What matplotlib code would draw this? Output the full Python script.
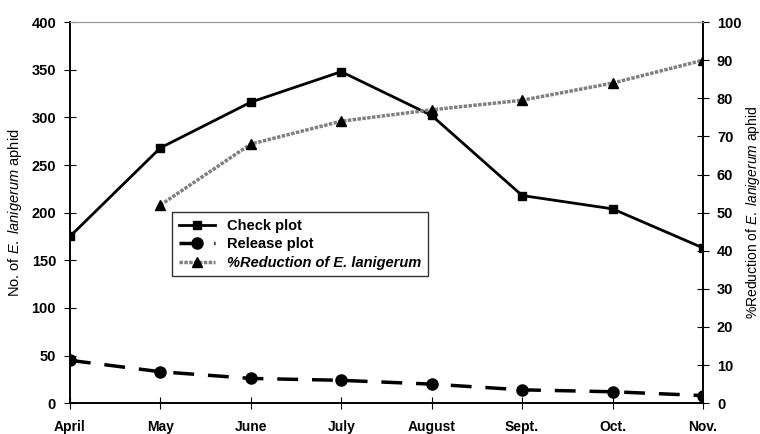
import numpy as np
import matplotlib
matplotlib.use("Agg")
import matplotlib.pyplot as plt

plt.rcParams['font.family'] = ['Liberation Sans', 'DejaVu Sans']
plt.rcParams['mathtext.fontset'] = 'custom'
plt.rcParams['mathtext.rm'] = 'Liberation Sans'
plt.rcParams['mathtext.it'] = 'Liberation Sans:italic'

months = ['April', 'May', 'June', 'July', 'August', 'Sept.', 'Oct.', 'Nov.']
check_plot = [175, 268, 316, 348, 302, 218, 204, 163]
release_plot = [45, 33, 26, 24, 20, 14, 12, 8]
reduction_months = ['May', 'June', 'July', 'August', 'Sept.', 'Oct.', 'Nov.']
reduction = [52, 68, 74, 77, 79.5, 84, 90]

x = np.arange(len(months))
xr = np.array([months.index(m) for m in reduction_months])

fig = plt.figure(figsize=(7.6, 4.34), dpi=100)
ax = fig.add_axes([0.092, 0.071, 0.833, 0.878])
ax2 = ax.twinx()

l1, = ax.plot(x, check_plot, '-', color='black', lw=2, marker='s', ms=6,
              label='Check plot')
l2, = ax.plot(x, release_plot, color='black', lw=2.5, ls=(0, (6, 4)),
              marker='o', ms=8, label='Release plot')
l3, = ax2.plot(xr, reduction, color='#808080', lw=2.5, ls=(0, (1, 0.4)),
               marker='^', ms=7, mfc='black', mec='black',
               label='%Reduction of E. lanigerum')

ax.set_xlim(0, 7)
ax.set_ylim(0, 400)
ax2.set_ylim(0, 100)
ax.set_yticks(np.arange(0, 401, 50))
ax2.set_yticks(np.arange(0, 101, 10))
ax.set_xticks(x)
ax.set_xticklabels(months, fontweight='bold', fontsize=10)
for t in ax.get_yticklabels():
    t.set_fontweight('bold')
    t.set_fontsize(10.5)
for t in ax2.get_yticklabels():
    t.set_fontweight('bold')
    t.set_fontsize(10.5)

ax.tick_params(axis='x', direction='inout', length=8, pad=8)
ax.tick_params(axis='y', direction='inout', length=8, pad=6)
ax2.tick_params(axis='y', direction='inout', length=8, pad=6)

for a in (ax, ax2):
    a.spines['top'].set_color('#999999')
    a.spines['top'].set_linewidth(0.8)
    a.spines['left'].set_linewidth(1.2)
    a.spines['right'].set_linewidth(1.2)
    a.spines['bottom'].set_linewidth(1.2)

ax.set_ylabel(r'No. of $\it{E.\ lanigerum}$ aphid', fontsize=10.5)
ax.yaxis.set_label_coords(-0.073, 0.5)
ax2.set_ylabel(r'%Reduction of $\it{E.\ lanigerum}$ aphid', fontsize=10)
ax2.yaxis.set_label_coords(1.064, 0.5)

leg = ax.legend(handles=[l1, l2, l3], loc='upper left',
                bbox_to_anchor=(0.15, 0.52), frameon=True, fancybox=False,
                edgecolor='black', prop={'weight': 'bold', 'size': 10.5},
                handlelength=2.5, borderpad=0.45, labelspacing=0.3)
leg.get_frame().set_linewidth(1.0)
leg.get_texts()[2].set_style('italic')

fig.savefig('out.png', dpi=100)
